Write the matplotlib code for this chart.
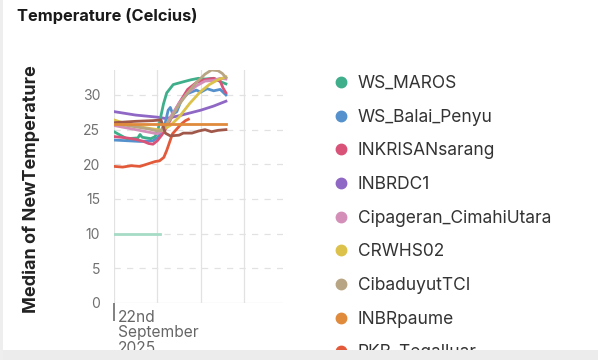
import matplotlib.pyplot as plt
from matplotlib.lines import Line2D
from matplotlib.patches import Rectangle
import matplotlib.transforms as mtransforms

plt.rcParams['font.family'] = ['Inter', 'DejaVu Sans']

# hours since 22 Sep 2025 00:00
maros_x = [0, 3.5, 6.6, 7.2, 7.8, 10.2, 11.4, 12.2, 13, 13.7, 14.6, 16.4, 19.2, 21.4, 23.4, 25.2, 27.6, 30, 31]
maros_y = [24.7, 23.7, 23.8, 24.3, 23.9, 23.7, 24.0, 25.0, 27.0, 28.7, 30.3, 31.5, 31.9, 32.2, 32.4, 32.3, 32.4, 31.8, 31.6]
balai_x = [0, 3.6, 7.2, 10.8, 12.2, 13.2, 14.2, 15, 15.6, 16.3, 17.4, 18.6, 20.4, 22.8, 24, 25.8, 27.6, 29.4, 31]
balai_y = [23.5, 23.4, 23.3, 23.4, 23.9, 25.0, 26.0, 27.8, 28.2, 27.2, 27.6, 29.2, 30.2, 30.7, 30.4, 30.9, 30.6, 30.8, 30.0]
inkrisan_x = [0, 3.6, 6, 8.2, 9.6, 10.8, 12, 13.2, 14.4, 16.2, 18, 20.4, 22.8, 25.2, 27.6, 29.4, 30.2, 31]
inkrisan_y = [24.0, 23.8, 23.6, 23.3, 23.0, 22.9, 23.4, 24.2, 25.2, 27.0, 28.8, 30.8, 31.8, 32.2, 32.4, 32.0, 31.0, 30.3]
inbrdc_x = [0, 6, 12, 14.4, 18, 24, 27.6, 31]
inbrdc_y = [27.6, 27.1, 26.8, 26.6, 27.0, 27.8, 28.4, 29.1]
cipageran_x = [0, 6, 12, 13.8, 15.6, 18, 20.4, 22.8, 25.2, 27.6, 29.4, 31]
cipageran_y = [25.6, 25.0, 24.4, 25.0, 26.8, 28.8, 30.3, 31.3, 32.0, 32.1, 32.4, 32.3]
crwhs_x = [0, 3.6, 8.4, 12, 13.2, 15.6, 18, 21, 24, 26.4, 28.8, 31]
crwhs_y = [26.4, 25.8, 25.3, 25.0, 24.9, 25.6, 26.8, 28.8, 30.5, 31.5, 32.2, 32.6]
cibaduyut_x = [0, 4.8, 9.6, 12, 13.2, 15.6, 18, 20.4, 22.8, 25.2, 27, 28.8, 30, 31]
cibaduyut_y = [25.9, 25.5, 25.1, 24.8, 24.9, 26.5, 28.6, 30.3, 31.8, 33.0, 33.6, 33.5, 33.1, 32.5]
paume_x = [0, 31]
paume_y = [25.8, 25.8]
tegalluar_x = [0, 2.4, 4.8, 7.2, 9.6, 11.4, 12.6, 13.8, 14.6, 15.6, 16.2, 17.4, 18.6, 19.8, 20.6]
tegalluar_y = [19.7, 19.6, 19.8, 19.7, 20.1, 20.4, 20.5, 21.0, 22.0, 23.5, 24.4, 25.1, 25.8, 26.3, 26.5]
brown_x = [0, 6, 10.8, 13, 13.6, 14.2, 15.6, 18, 19.2, 21.6, 23.4, 25.2, 27, 28.8, 31]
brown_y = [26.0, 26.2, 26.3, 26.4, 25.5, 24.5, 24.1, 24.2, 24.5, 24.5, 24.8, 25.0, 24.7, 24.9, 25.0]
mint_x = [0, 12.8]
mint_y = [10, 10]

names = ['WS_MAROS', 'WS_Balai_Penyu', 'INKRISANsarang', 'INBRDC1', 'Cipageran_CimahiUtara',
         'CRWHS02', 'CibaduyutTCI', 'INBRpaume', 'RKB_Tegalluar']
colors = ['#3fae8a', '#5591cc', '#d95379', '#8f67c4', '#d48fb8',
          '#dcc14b', '#b8a584', '#e08a3c', '#e35a3a']

fig = plt.figure(figsize=(5.98, 3.6), dpi=100)
fig.patch.set_facecolor('white')
ax = fig.add_axes([114 / 598, 1 - 303 / 360, 169 / 598, 233 / 360])

lw = 2.0
ax.plot(mint_x, mint_y, color='#a6dcc6', lw=lw)
ax.plot(inbrdc_x, inbrdc_y, color=colors[3], lw=lw)
ax.plot(balai_x, balai_y, color=colors[1], lw=lw)
ax.plot(maros_x, maros_y, color=colors[0], lw=lw)
ax.plot(tegalluar_x, tegalluar_y, color=colors[8], lw=lw)
ax.plot(inkrisan_x, inkrisan_y, color=colors[2], lw=lw)
ax.plot(cipageran_x, cipageran_y, color=colors[4], lw=lw)
ax.plot(crwhs_x, crwhs_y, color=colors[5], lw=lw)
ax.plot(cibaduyut_x, cibaduyut_y, color=colors[6], lw=lw)
ax.plot(brown_x, brown_y, color='#a0584a', lw=lw)
ax.plot(paume_x, paume_y, color=colors[7], lw=lw)

ax.set_xlim(0, 46.8)
ax.set_ylim(0, 33.6)
for s in ax.spines.values():
    s.set_visible(False)
ax.set_yticks([0, 5, 10, 15, 20, 25, 30])
ax.tick_params(axis='y', length=0, pad=10, labelsize=10, labelcolor='#707070')
for v in [5, 10, 15, 20, 25, 30]:
    ax.axhline(v, color='#e2e2e2', lw=0.9, dashes=(5, 5), zorder=0)
ax.axhline(0, color='#e2e2e2', lw=0.9, zorder=0)
for h in [0, 12, 24, 36]:
    ax.axvline(h, color='#e2e2e2', lw=0.9, zorder=0)

ax.set_xticks([0])
ax.set_xticklabels([''])
ax.tick_params(axis='x', length=13, width=1.3, color='#777777', direction='out', pad=0)
blend = mtransforms.blended_transform_factory(ax.transData, ax.transAxes)
trans = mtransforms.offset_copy(blend, fig=fig, x=4, y=-7, units='dots')
ax.text(0, 0, '22nd\nSeptember\n2025', transform=trans,
        ha='left', va='top', fontsize=11.2, color='#666666', linespacing=1.03)

ax.set_ylabel('Median of NewTemperature', fontsize=13, fontweight='bold', color='#222222')
ax.yaxis.set_label_coords(-74 / 169, 0.49)

fig.text(17 / 598, 1 - 16 / 360, 'Temperature (Celcius)', fontsize=11.8, fontweight='bold',
         color='#1a1a1a', va='center', ha='left')

handles = [Line2D([], [], marker='o', ls='none', color=c, markersize=7.5) for c in colors]
fig.legend(handles, names, loc='upper left', bbox_to_anchor=(325 / 598, 1 - 68 / 360),
           frameon=False, fontsize=12.5, labelspacing=0.96, handletextpad=0.5,
           handlelength=1.0, labelcolor='#333333', borderaxespad=0)

fig.patches.append(Rectangle((0, 0), 1, 10 / 360, transform=fig.transFigure,
                             facecolor='#ececec', edgecolor='none', zorder=10))
fig.patches.append(Rectangle((0, 0), 3 / 598, 1, transform=fig.transFigure,
                             facecolor='#eeeeee', edgecolor='none', zorder=10))

fig.savefig('out.png', dpi=100)
